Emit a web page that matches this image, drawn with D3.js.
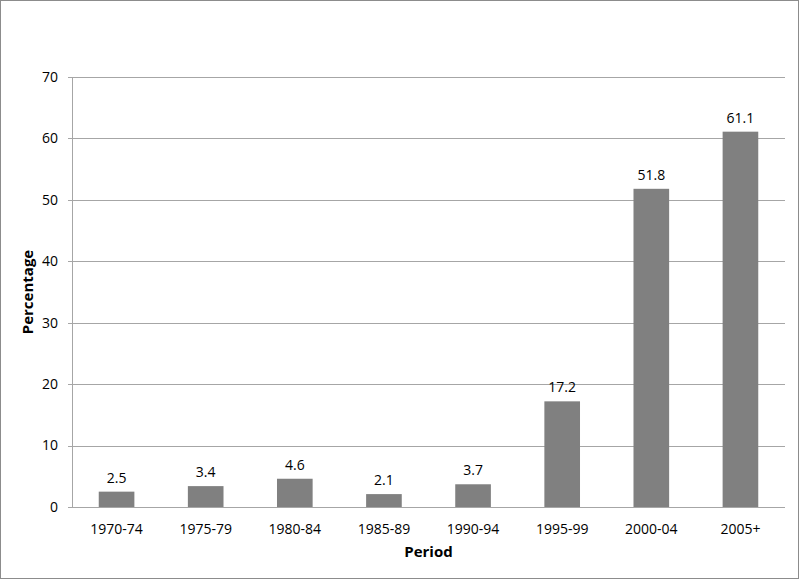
<!DOCTYPE html>
<html><head><meta charset="utf-8">
<script src="https://cdn.jsdelivr.net/npm/d3@7"></script>
<style>body{margin:0;background:#fff}svg{display:block}text{font-family:"Open Sans","Liberation Sans",sans-serif}</style>
</head><body>
<script>
const categories = ["1970-74","1975-79","1980-84","1985-89","1990-94","1995-99","2000-04","2005+"];
const values = [2.5,3.4,4.6,2.1,3.7,17.2,51.8,61.1];
const yTicks = [0,10,20,30,40,50,60,70];

const W=800,H=583;
const m={left:72,right:15,top:77,bottom:76};
const svg=d3.select("body").append("svg").attr("width",W).attr("height",H);
svg.append("rect").attr("x",0.5).attr("y",0.5).attr("width",W-2).attr("height",H-5)
  .attr("fill","#fff").attr("stroke","#8c8c8c").attr("stroke-width",1);

const x=d3.scaleBand().domain(categories).range([m.left,W-m.right]).paddingInner(0.6).paddingOuter(0.3);
const y=d3.scaleLinear().domain([0,70]).range([H-m.bottom,m.top]);

// gridlines
svg.append("g").selectAll("line").data(yTicks).join("line")
  .attr("x1",m.left-4).attr("x2",W-m.right)
  .attr("y1",d=>Math.round(y(d))+0.5).attr("y2",d=>Math.round(y(d))+0.5)
  .attr("stroke","#a6a6a6").attr("stroke-width",1);
// y axis line
svg.append("line").attr("x1",m.left+0.5).attr("x2",m.left+0.5)
  .attr("y1",y(70)).attr("y2",y(0)).attr("stroke","#a6a6a6");

// y tick labels
svg.append("g").selectAll("text").data(yTicks).join("text")
  .attr("x",m.left-14).attr("y",d=>y(d)).attr("dy","0.35em")
  .attr("text-anchor","end").attr("font-size",14).attr("fill","#000").text(d=>d);

// bars
svg.append("g").selectAll("rect").data(values).join("rect")
  .attr("x",(d,i)=>x(categories[i])).attr("width",x.bandwidth())
  .attr("y",d=>y(d)).attr("height",d=>y(0)-y(d)).attr("fill","#808080");

// value labels
svg.append("g").selectAll("text").data(values).join("text")
  .attr("x",(d,i)=>x(categories[i])+x.bandwidth()/2).attr("y",d=>y(d)-9)
  .attr("text-anchor","middle").attr("font-size",14).attr("fill","#000").text(d=>d.toFixed(1));

// x labels
svg.append("g").selectAll("text").data(categories).join("text")
  .attr("x",d=>x(d)+x.bandwidth()/2).attr("y",y(0)+27)
  .attr("text-anchor","middle").attr("font-size",14).attr("fill","#000").text(d=>d);

// axis titles
svg.append("text").attr("x",(m.left+W-m.right)/2).attr("y",557).attr("text-anchor","middle")
  .attr("font-size",15).attr("font-weight","bold").text("Period");
svg.append("text").attr("transform",`translate(33,${(y(0)+y(70))/2}) rotate(-90)`)
  .attr("text-anchor","middle").attr("font-size",15).attr("font-weight","bold").text("Percentage");
</script>
</body></html>
